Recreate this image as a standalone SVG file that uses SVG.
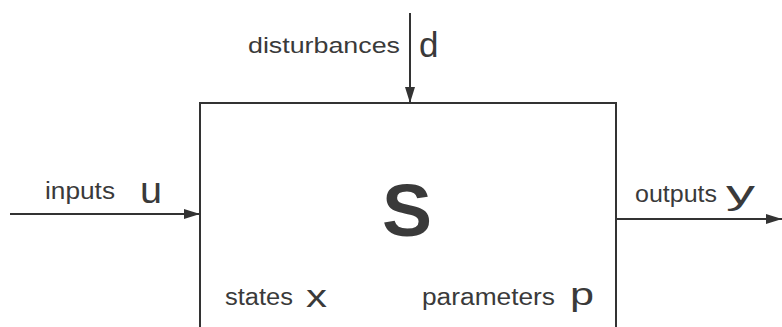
<svg xmlns="http://www.w3.org/2000/svg" width="782" height="327" viewBox="0 0 782 327">
  <style>
    .lbl { font-family: "Liberation Sans", Arial, sans-serif; fill: #3a3a3a; }
    .line { stroke: #333; stroke-width: 2; fill: none; }
  </style>
  <defs>
    <marker id="arrow" viewBox="0 0 16 10" refX="16" refY="5" markerWidth="16" markerHeight="10" markerUnits="userSpaceOnUse" orient="auto">
      <path d="M0,0 L16,5 L0,10 Z" fill="#333"/>
    </marker>
  </defs>
  <rect width="782" height="327" fill="#ffffff"/>

  <g id="system">
    <rect x="200" y="103" width="416" height="240" class="line"/>
    <text class="lbl" x="407" y="236" font-size="75" font-weight="bold" text-anchor="middle" fill="#333">S</text>
    <text class="lbl" x="225" y="305" font-size="23" textLength="68" lengthAdjust="spacingAndGlyphs">states</text>
    <text class="lbl" x="306" y="307" font-size="31" textLength="21" lengthAdjust="spacingAndGlyphs">x</text>
    <text class="lbl" x="422" y="305" font-size="23" textLength="133" lengthAdjust="spacingAndGlyphs">parameters</text>
    <text class="lbl" x="570" y="305" font-size="31" textLength="24" lengthAdjust="spacingAndGlyphs">p</text>
  </g>

  <g id="connectors">
    <line x1="410" y1="13" x2="410" y2="103" class="line" marker-end="url(#arrow)"/>
    <line x1="10" y1="214" x2="200" y2="214" class="line" marker-end="url(#arrow)"/>
    <line x1="616" y1="219" x2="782" y2="219" class="line" marker-end="url(#arrow)"/>
  </g>

  <g id="disturbances">
    <text class="lbl" x="248" y="53" font-size="22" textLength="152" lengthAdjust="spacingAndGlyphs">disturbances</text>
    <text class="lbl" x="419" y="57" font-size="35">d</text>
  </g>

  <g id="inputs">
    <text class="lbl" x="45" y="199" font-size="23" textLength="70" lengthAdjust="spacingAndGlyphs">inputs</text>
    <text class="lbl" x="140" y="203" font-size="37" textLength="22" lengthAdjust="spacingAndGlyphs">u</text>
  </g>

  <g id="outputs">
    <text class="lbl" x="635" y="202" font-size="23" textLength="82" lengthAdjust="spacingAndGlyphs">outputs</text>
    <text class="lbl" x="726" y="204" font-size="34" textLength="29" lengthAdjust="spacingAndGlyphs">y</text>
  </g>
</svg>
